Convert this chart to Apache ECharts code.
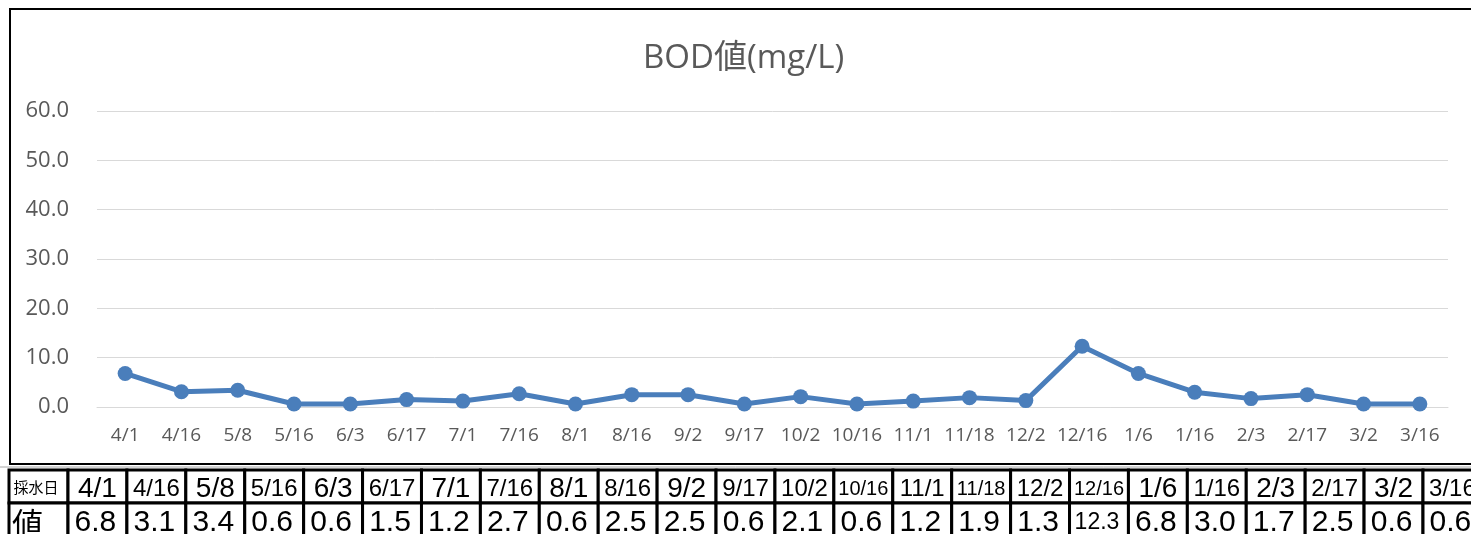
<!DOCTYPE html>
<html><head><meta charset="utf-8">
<script src="https://cdn.jsdelivr.net/npm/echarts@6/dist/echarts.min.js"></script>
<style>html,body{margin:0;padding:0;background:#fff;overflow:hidden}#c{width:1471px;height:534px}</style>
</head><body><div id="c"></div>
<script>
const chartTitle = 'BOD値(mg/L)';
const categories = ['4/1','4/16','5/8','5/16','6/3','6/17','7/1','7/16','8/1','8/16','9/2','9/17','10/2','10/16','11/1','11/18','12/2','12/16','1/6','1/16','2/3','2/17','3/2','3/16'];
const values = [6.8,3.1,3.4,0.6,0.6,1.5,1.2,2.7,0.6,2.5,2.5,0.6,2.1,0.6,1.2,1.9,1.3,12.3,6.8,3.0,1.7,2.5,0.6,0.6];
const rowHeaders = ['採水日','値'];

const chart = echarts.init(document.getElementById('c'), null, {renderer:'canvas'});

const graphics = [];
// chart frame
graphics.push({type:'rect', silent:true, z:-10, shape:{x:10, y:9, width:1480, height:455}, style:{fill:'none', stroke:'#000', lineWidth:2}});
graphics.push({type:'line', silent:true, z:-10, shape:{x1:0, y1:467, x2:1471, y2:467}, style:{stroke:'#a6a6a6', lineWidth:1}});

// data table
const tTop = 470, rH1 = 33, rH2 = 40, firstW = 59, colX0 = 68, colW = (1423 - 68) / 23;
const numFont = '"Liberation Sans", Arial, sans-serif';
const jpFont = '"Noto Sans CJK JP", sans-serif';
function cell(x, y, w, h) {
  graphics.push({type:'rect', silent:true, z:5, shape:{x:x, y:y, width:w, height:h}, style:{fill:'#fff', stroke:'#000', lineWidth:3}});
}
function txt(s, x, y, size, fam, align) {
  graphics.push({type:'text', silent:true, z:6, style:{text:s, x:x, y:y, align:align || 'center', verticalAlign:'middle', fontSize:size, fontFamily:fam, fill:'#000'}});
}
cell(9, tTop, firstW, rH1);
cell(9, tTop + rH1, firstW, rH2);
txt(rowHeaders[0], 36, tTop + 17, 15, jpFont);
txt(rowHeaders[1], 12, tTop + rH1 + 20, 31, jpFont, 'left');
const dateSize = {3:28, 4:24, 5:20};
const valSize = {3:30, 4:23};
categories.forEach(function(d, i) {
  const x = colX0 + i * colW;
  cell(x, tTop, colW, rH1);
  cell(x, tTop + rH1, colW, rH2);
  txt(d, x + colW / 2, tTop + 19, dateSize[d.length] || 20, numFont);
  const v = values[i].toFixed(1);
  txt(v, x + colW / 2 - 2, tTop + rH1 + 20, valSize[v.length] || 23, numFont);
});

chart.setOption({
  animation: false,
  backgroundColor: '#fff',
  title: {
    text: chartTitle, left: 638, top: 37,
    textStyle: {fontSize: 33, fontWeight: 'normal', color: '#595959', fontFamily: '"Open Sans", "Noto Sans CJK JP", sans-serif'}
  },
  grid: {left: 97, right: 23, top: 111, bottom: 127, containLabel: false},
  xAxis: {
    type: 'category', data: categories, boundaryGap: true,
    axisTick: {show: false},
    axisLine: {lineStyle: {color: '#d9d9d9', width: 1}},
    axisLabel: {interval: 0, color: '#595959', fontSize: 19, margin: 19, fontFamily: '"Open Sans", sans-serif'}
  },
  yAxis: {
    type: 'value', min: 0, max: 60, interval: 10,
    axisLine: {show: false}, axisTick: {show: false},
    axisLabel: {color: '#595959', fontSize: 22, margin: 28, fontFamily: '"Open Sans", sans-serif', formatter: function(v){ return v.toFixed(1); }},
    splitLine: {lineStyle: {color: '#d9d9d9', width: 1}}
  },
  series: [{
    type: 'line', data: values, symbol: 'circle', symbolSize: 15,
    lineStyle: {color: '#4a7ebb', width: 5},
    itemStyle: {color: '#4a7ebb'}
  }],
  graphic: graphics
});
</script></body></html>
